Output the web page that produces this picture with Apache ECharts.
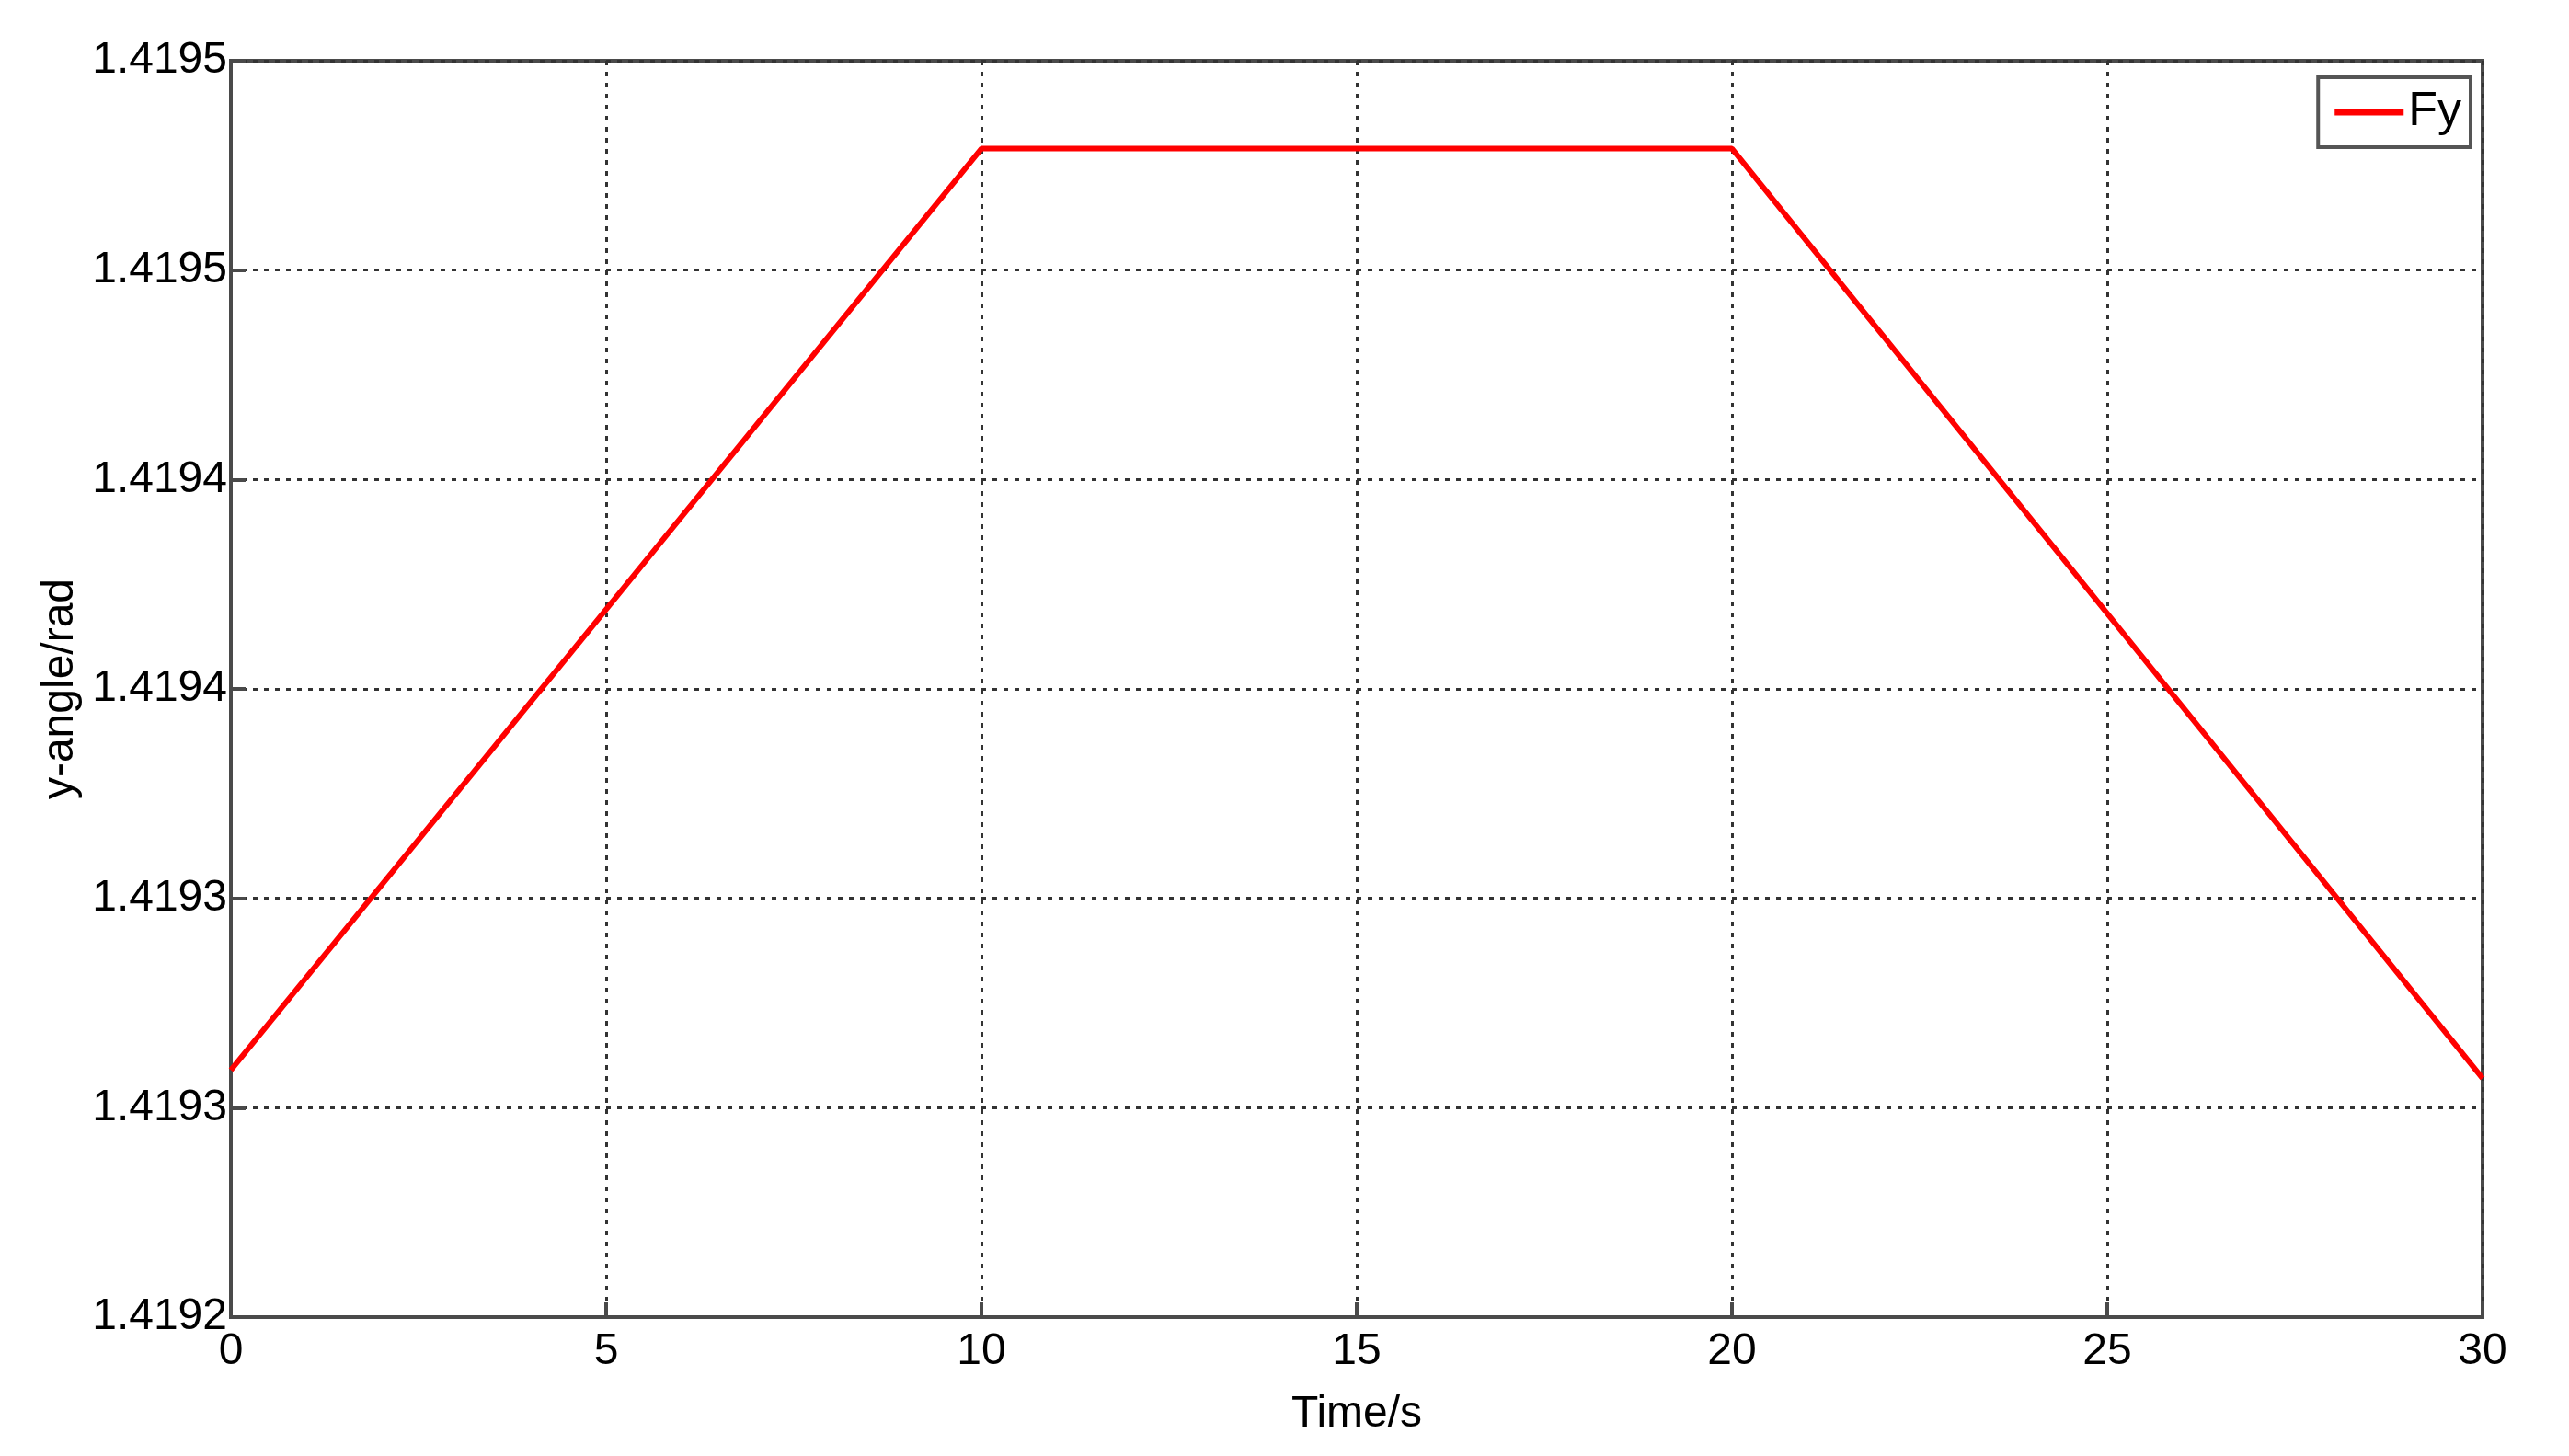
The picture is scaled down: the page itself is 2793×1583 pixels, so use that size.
<!DOCTYPE html>
<html>
<head>
<meta charset="utf-8">
<script src="https://cdn.jsdelivr.net/npm/echarts@6/dist/echarts.min.js"></script>
<style>
  html, body { margin: 0; padding: 0; background: #fff; }
  #chart { width: 2793px; height: 1583px; }
</style>
</head>
<body>
<div id="chart"></div>
<script>
// time (s) and y-angle (rad)
var timeS = [0, 10, 20, 30];
var fyAngle = [1.419259, 1.419479, 1.419479, 1.419257];
// MATLAB shows rounded tick labels
var yTickLabels = ['1.4192', '1.4193', '1.4193', '1.4194', '1.4194', '1.4195', '1.4195'];
var xTickLabels = ['0', '5', '10', '15', '20', '25', '30'];

var font = "'Liberation Sans Narrow', 'Liberation Sans', Arial, sans-serif";
var chart = echarts.init(document.getElementById('chart'));

var data = [];
for (var i = 0; i < timeS.length; i++) {
    data.push([timeS[i], fyAngle[i]]);
}

chart.setOption({
    animation: false,
    grid: {
        left: 251,
        right: 94,
        top: 66,
        bottom: 151,
        show: true,
        borderColor: '#4a4a4a',
        borderWidth: 4
    },
    legend: {
        right: 107,
        top: 84,
        data: [{ name: 'Fy', icon: 'rect' }],
        itemWidth: 75,
        itemHeight: 7,
        itemGap: 6,
        padding: [12, 10, 12, 18],
        borderColor: '#555',
        borderWidth: 4,
        backgroundColor: '#fff',
        textStyle: { fontFamily: font, fontSize: 52, color: '#000' }
    },
    xAxis: {
        type: 'value',
        min: 0,
        max: 30,
        interval: 5,
        name: 'Time/s',
        nameLocation: 'middle',
        nameGap: 82,
        nameTextStyle: { fontFamily: font, fontSize: 48, color: '#000' },
        axisLine: { lineStyle: { color: '#4a4a4a', width: 4 } },
        axisTick: { inside: true, length: 16, lineStyle: { color: '#4a4a4a', width: 4 } },
        axisLabel: {
            margin: 14,
            fontFamily: font,
            fontSize: 48,
            color: '#000',
            formatter: function (v, idx) { return xTickLabels[idx]; }
        },
        splitLine: { show: true, lineStyle: { color: '#333', width: 3, type: [5, 7] } }
    },
    yAxis: {
        type: 'value',
        min: 1.4192,
        max: 1.4195,
        interval: 0.00005,
        name: 'y-angle/rad',
        nameLocation: 'middle',
        nameGap: 150,
        nameTextStyle: { fontFamily: font, fontSize: 48, color: '#000' },
        axisLine: { show: true, lineStyle: { color: '#4a4a4a', width: 4 } },
        axisTick: { show: true, inside: true, length: 16, lineStyle: { color: '#4a4a4a', width: 4 } },
        axisLabel: {
            margin: 4,
            fontFamily: font,
            fontSize: 48,
            color: '#000',
            formatter: function (v, idx) { return yTickLabels[idx]; }
        },
        splitLine: { show: true, lineStyle: { color: '#333', width: 3, type: [5, 7] } }
    },
    series: [{
        name: 'Fy',
        type: 'line',
        data: data,
        symbol: 'none',
        itemStyle: { color: '#ff0000' },
        lineStyle: { color: '#ff0000', width: 6 }
    }]
});
</script>
</body>
</html>
